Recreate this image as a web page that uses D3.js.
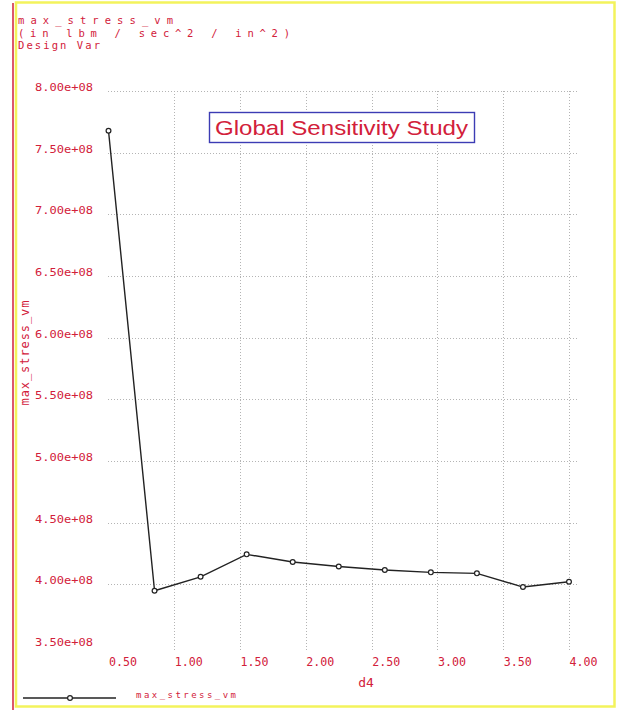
<!DOCTYPE html>
<html>
<head>
<meta charset="utf-8">
<script src="https://cdn.jsdelivr.net/npm/d3@7"></script>
<style>
  html, body { margin: 0; padding: 0; background: #fff; }
  svg { display: block; }
</style>
</head>
<body>
<script>
// Sensitivity of max_stress_vm to design variable d4
const d4Values = [0.50, 0.85, 1.20, 1.55, 1.90, 2.25, 2.60, 2.95, 3.30, 3.65, 4.00];
const maxStressVm = [7.678e8, 3.948e8, 4.061e8, 4.243e8, 4.181e8, 4.145e8, 4.116e8, 4.097e8, 4.089e8, 3.978e8, 4.021e8];
const xTickValues = [0.5, 1.0, 1.5, 2.0, 2.5, 3.0, 3.5, 4.0];
const yTickValues = [3.5e8, 4.0e8, 4.5e8, 5.0e8, 5.5e8, 6.0e8, 6.5e8, 7.0e8, 7.5e8, 8.0e8];
const headerLines = ["max_stress_vm", "(in lbm / sec^2 / in^2)", "Design Var"];
const chartTitle = "Global Sensitivity Study";
const xTitle = "d4";
const yTitle = "max_stress_vm";
const legendLabel = "max_stress_vm";

const W = 618, H = 710;
const RED = "#d2203a";
const svg = d3.select("body").append("svg").attr("width", W).attr("height", H);

// page frame
svg.append("rect").attr("x", 16).attr("y", 2.5).attr("width", 598.5).attr("height", 704)
  .attr("fill", "none").attr("stroke", "#f3f35c").attr("stroke-width", 2.5);
svg.append("line").attr("x1", 13).attr("x2", 13).attr("y1", 3).attr("y2", H)
  .attr("stroke", RED).attr("stroke-width", 1.5);

const x = d3.scaleLinear().domain([0.5, 4.0]).range([108.5, 569]);
const y = d3.scaleLinear().domain([3.5e8, 8.0e8]).range([646, 91]);

// dotted grid
const grid = svg.append("g").attr("stroke", "#b4b4b4").attr("stroke-width", 1)
  .attr("stroke-dasharray", "1,2");
grid.selectAll("line.h").data(yTickValues.filter(v => v > 3.5e8)).join("line")
  .attr("class", "h")
  .attr("x1", 108).attr("x2", 577)
  .attr("y1", d => Math.round(y(d)) + 0.5).attr("y2", d => Math.round(y(d)) + 0.5);
grid.selectAll("line.v").data(xTickValues.filter(v => v > 0.5)).join("line")
  .attr("class", "v")
  .attr("y1", 91).attr("y2", 651)
  .attr("x1", d => Math.round(x(d)) + 0.5).attr("x2", d => Math.round(x(d)) + 0.5);

// y axis tick labels
const fmtExp = v => v.toExponential(2).replace(/e([+-])(\d)$/, "e$10$2");
const yAxis = svg.append("g").attr("transform", "translate(93,0)")
  .call(d3.axisLeft(y).tickValues(yTickValues).tickSize(0).tickPadding(0).tickFormat(fmtExp));
yAxis.select(".domain").remove();
yAxis.selectAll("text")
  .attr("fill", RED).attr("font-family", "DejaVu Sans Mono").attr("font-size", 11)
  .attr("dy", "-0.05em")
  .attr("textLength", 58).attr("lengthAdjust", "spacingAndGlyphs");

// x axis tick labels
const xAxis = svg.append("g").attr("transform", "translate(0,661)")
  .call(d3.axisBottom(x).tickValues(xTickValues).tickSize(0).tickPadding(0).tickFormat(d3.format(".2f")));
xAxis.select(".domain").remove();
xAxis.selectAll("text")
  .attr("fill", RED).attr("font-family", "DejaVu Sans Mono").attr("font-size", 12)
  .attr("text-anchor", "start").attr("dy", "0.4em")
  .attr("textLength", 28).attr("lengthAdjust", "spacingAndGlyphs");

// data line and markers
const line = d3.line().x((d, i) => x(d4Values[i])).y(d => y(d));
svg.append("path").datum(maxStressVm).attr("d", line)
  .attr("fill", "none").attr("stroke", "#222").attr("stroke-width", 1.4);
svg.selectAll("circle.pt").data(maxStressVm).join("circle")
  .attr("class", "pt")
  .attr("cx", (d, i) => x(d4Values[i])).attr("cy", d => y(d)).attr("r", 2.4)
  .attr("fill", "#fff").attr("stroke", "#222").attr("stroke-width", 1.2);

// chart title box
svg.append("rect").attr("x", 209.5).attr("y", 112.5).attr("width", 265).attr("height", 30)
  .attr("fill", "#fff").attr("stroke", "#3c3cb4").attr("stroke-width", 1.4);
svg.append("text").attr("x", 215).attr("y", 135)
  .attr("fill", RED).attr("font-family", "Liberation Sans").attr("font-size", 21)
  .attr("textLength", 253).attr("lengthAdjust", "spacingAndGlyphs")
  .text(chartTitle);

// header block
const headerWidths = [155, 272, 82];
svg.selectAll("text.hdr").data(headerLines).join("text")
  .attr("class", "hdr")
  .attr("x", 18).attr("y", (d, i) => 24 + i * 12.5)
  .attr("fill", RED).attr("font-family", "DejaVu Sans Mono").attr("font-size", 10.5)
  .attr("textLength", (d, i) => headerWidths[i]).attr("lengthAdjust", "spacing")
  .text(d => d);

// axis titles
svg.append("text").attr("x", 366).attr("y", 687).attr("text-anchor", "middle")
  .attr("fill", RED).attr("font-family", "DejaVu Sans Mono").attr("font-size", 13)
  .text(xTitle);
svg.append("text").attr("transform", "translate(29,353) rotate(-90)")
  .attr("text-anchor", "middle")
  .attr("fill", RED).attr("font-family", "DejaVu Sans Mono").attr("font-size", 12)
  .attr("textLength", 105).attr("lengthAdjust", "spacing")
  .text(yTitle);

// legend
svg.append("line").attr("x1", 23).attr("x2", 116).attr("y1", 698).attr("y2", 698)
  .attr("stroke", "#222").attr("stroke-width", 1.3);
svg.append("circle").attr("cx", 70).attr("cy", 698).attr("r", 2.4)
  .attr("fill", "#fff").attr("stroke", "#222").attr("stroke-width", 1.2);
svg.append("text").attr("x", 136).attr("y", 698)
  .attr("fill", RED).attr("font-family", "DejaVu Sans Mono").attr("font-size", 9)
  .attr("textLength", 100).attr("lengthAdjust", "spacing")
  .text(legendLabel);
</script>
</body>
</html>
